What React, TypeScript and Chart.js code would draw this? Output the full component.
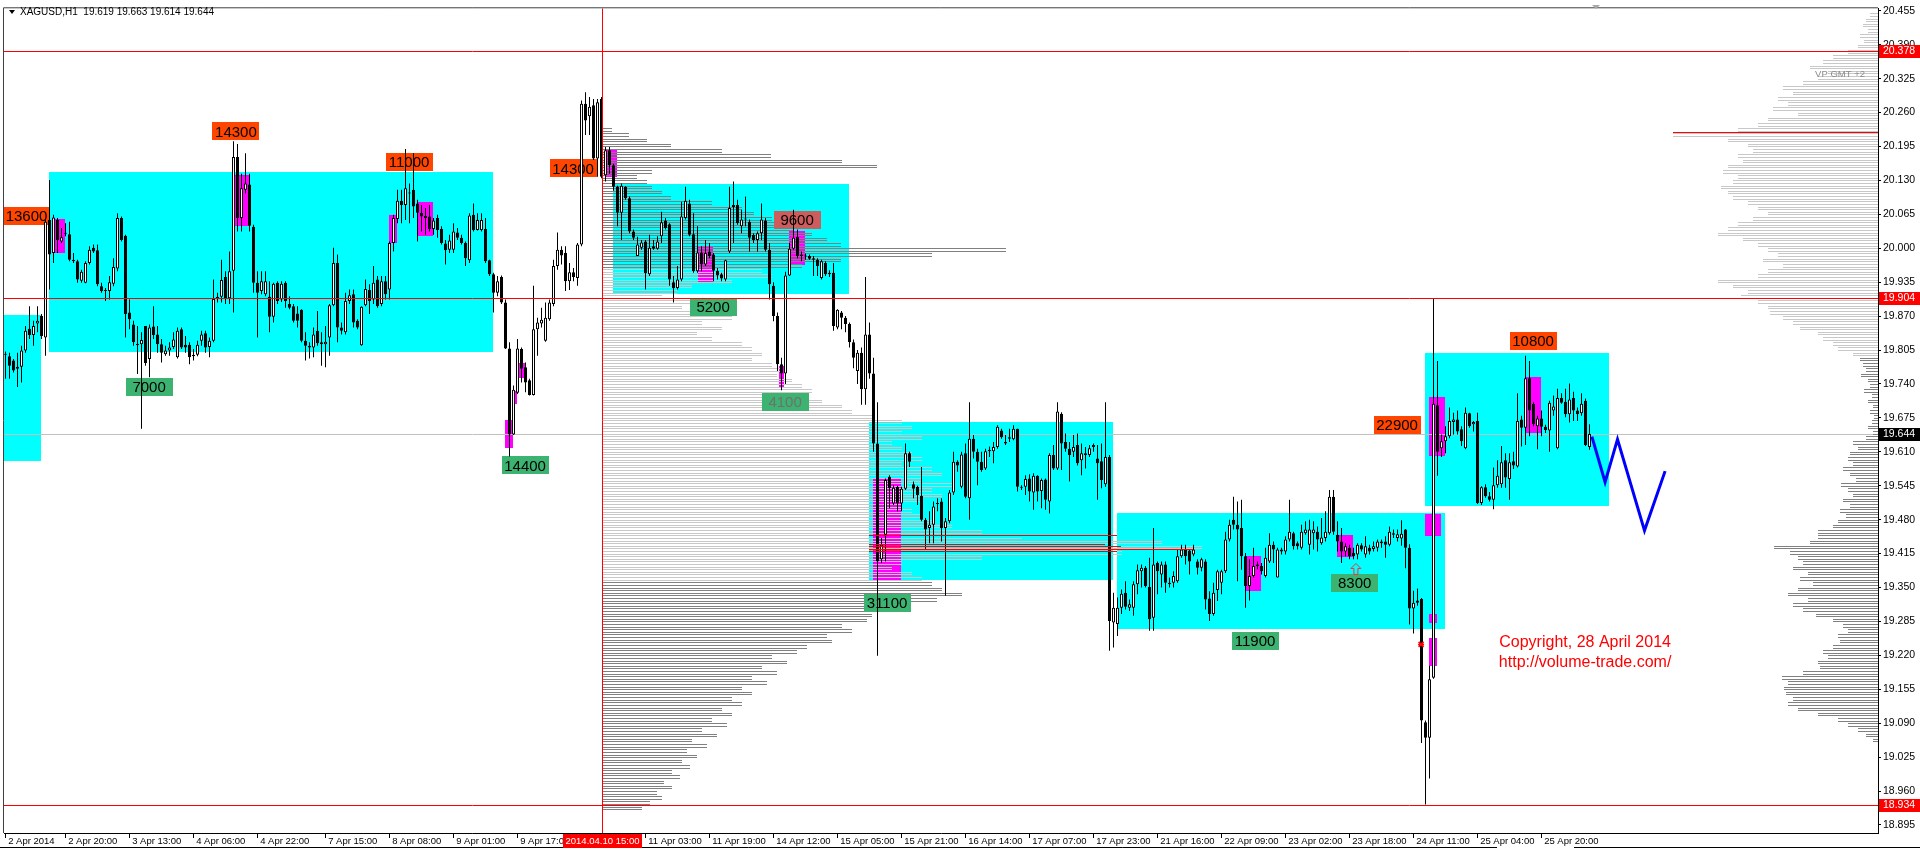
import React, { useEffect, useRef } from "react";
import { Chart, registerables } from "chart.js";

Chart.register(...registerables);

const FONT = "'Liberation Sans', Arial, Helvetica, sans-serif";

// ---------- candles (H1 bars, index 0 = first visible bar) ----------
const OPEN = [
  19.798,19.793,19.785,19.769,19.773,19.804,19.846,19.834,19.856,19.870,
  19.829,20.054,19.991,20.054,20.013,20.029,20.027,19.978,19.975,19.938,
  19.934,19.972,20.001,19.996,19.927,19.920,19.918,19.932,19.961,20.058,
  20.024,19.877,19.854,19.817,19.816,19.851,19.788,19.850,19.835,19.816,
  19.797,19.804,19.811,19.791,19.845,19.815,19.815,19.796,19.796,19.823,
  19.837,19.811,19.823,19.907,19.907,19.945,19.904,19.957,20.175,20.058,
  20.112,20.122,20.041,19.934,19.918,19.912,19.907,19.869,19.934,19.902,
  19.934,19.893,19.889,19.875,19.882,19.823,19.813,19.810,19.842,19.820,
  19.816,19.829,19.891,19.972,19.848,19.839,19.899,19.912,19.861,19.814,
  19.891,19.920,19.902,19.940,19.893,19.937,19.921,20.010,20.056,20.091,
  20.083,20.105,20.112,20.086,20.068,20.062,20.061,20.037,20.058,20.037,
  20.009,19.997,19.997,20.030,20.020,20.010,19.977,20.064,20.035,20.035,
  20.037,19.977,19.950,19.915,19.945,19.896,19.808,19.643,19.723,19.807,
  19.772,19.747,19.719,19.845,19.856,19.823,19.864,19.893,19.966,19.997,
  19.991,19.937,19.954,19.943,20.007,20.277,20.253,20.274,20.172,20.286,
  20.140,20.188,20.159,20.118,20.068,20.118,20.096,20.032,19.985,20.001,
  20.013,19.950,20.004,19.999,20.023,20.053,20.046,19.935,19.924,19.940,
  20.058,20.086,20.027,19.956,19.992,19.969,19.994,19.988,19.957,19.950,
  19.940,19.994,20.079,20.083,20.042,20.056,20.051,20.026,20.016,20.029,
  20.053,19.997,19.928,19.870,19.778,19.760,19.948,19.999,20.022,19.988,
  19.985,19.985,19.981,19.978,19.943,19.972,19.950,19.953,19.848,19.877,
  19.867,19.855,19.820,19.765,19.800,19.730,19.835,19.760,19.626,19.404,
  19.451,19.562,19.511,19.543,19.511,19.539,19.607,19.548,19.543,19.526,
  19.480,19.464,19.470,19.511,19.515,19.464,19.477,19.532,19.591,19.543,
  19.607,19.521,19.635,19.610,19.591,19.578,19.611,19.611,19.619,19.651,
  19.626,19.638,19.634,19.654,19.543,19.543,19.559,19.532,19.564,19.535,
  19.557,19.515,19.604,19.578,19.683,19.629,19.616,19.610,19.623,19.594,
  19.607,19.604,19.623,19.597,19.592,19.548,19.600,19.283,19.280,19.311,
  19.340,19.311,19.311,19.356,19.381,19.388,19.351,19.292,19.397,19.375,
  19.394,19.359,19.359,19.362,19.410,19.423,19.421,19.413,19.400,19.388,
  19.400,19.329,19.299,19.345,19.359,19.381,19.442,19.480,19.470,19.464,
  19.410,19.353,19.372,19.391,19.391,19.372,19.400,19.432,19.369,19.423,
  19.419,19.442,19.454,19.435,19.426,19.454,19.432,19.454,19.457,19.435,
  19.445,19.454,19.524,19.451,19.438,19.419,19.426,19.416,19.413,19.431,
  19.413,19.426,19.424,19.426,19.438,19.438,19.432,19.454,19.445,19.444,
  19.461,19.426,19.310,19.325,19.328,19.092,19.062,19.177,19.699,19.617,
  19.630,19.640,19.667,19.672,19.653,19.617,19.684,19.663,19.669,19.512,
  19.542,19.525,19.518,19.546,19.548,19.594,19.558,19.592,19.582,19.672,
  19.656,19.751,19.702,19.659,19.674,19.658,19.651,19.689,19.617,19.713,
  19.706,19.682,19.713,19.689,19.684,19.708,19.619,
];
const HIGH = [
  19.802,19.800,19.788,19.800,19.813,19.851,19.889,19.861,19.889,19.874,
  20.054,20.131,20.064,20.058,20.039,20.048,20.051,19.991,19.978,19.959,
  19.975,20.004,20.007,20.007,19.934,19.924,19.947,19.981,20.067,20.061,
  20.026,19.902,19.861,19.851,19.839,19.851,19.854,19.889,19.851,19.826,
  19.813,19.820,19.839,19.848,19.848,19.832,19.820,19.807,19.823,19.842,
  19.842,19.829,19.940,19.915,19.978,19.956,19.994,20.205,20.200,20.143,
  20.182,20.143,20.045,19.956,19.956,19.956,19.937,19.934,19.937,19.937,
  19.937,19.908,19.893,19.889,19.883,19.839,19.820,19.848,19.880,19.839,
  19.851,19.893,20.001,19.988,19.858,19.915,19.921,19.921,19.864,19.889,
  19.940,19.931,19.966,19.947,19.947,19.947,20.013,20.064,20.112,20.112,
  20.190,20.124,20.182,20.093,20.083,20.077,20.083,20.058,20.064,20.042,
  20.016,20.026,20.048,20.039,20.026,20.013,20.067,20.086,20.067,20.067,
  20.058,19.978,19.953,19.947,19.948,19.902,19.820,19.737,19.826,19.810,
  19.781,19.750,19.928,19.867,19.886,19.896,19.902,19.978,20.030,20.004,
  20.004,19.972,19.962,20.010,20.283,20.299,20.290,20.286,20.286,20.290,
  20.194,20.194,20.162,20.120,20.124,20.119,20.099,20.036,20.022,20.016,
  20.016,20.026,20.016,20.023,20.070,20.058,20.048,19.947,19.966,20.089,
  20.118,20.093,20.067,20.042,20.004,20.016,20.010,19.991,19.962,19.953,
  19.978,20.118,20.128,20.093,20.074,20.099,20.055,20.029,20.032,20.086,
  20.058,20.010,19.935,19.877,19.790,19.955,20.010,20.074,20.036,19.994,
  19.990,19.988,19.985,19.981,19.978,19.975,19.958,19.972,19.883,19.880,
  19.870,19.858,19.825,19.805,19.810,19.945,19.858,19.790,19.705,19.445,
  19.559,19.565,19.546,19.545,19.543,19.626,19.610,19.553,19.545,19.581,
  19.483,19.496,19.515,19.521,19.521,19.483,19.537,19.610,19.594,19.610,
  19.626,19.705,19.642,19.616,19.610,19.616,19.620,19.629,19.661,19.654,
  19.642,19.654,19.661,19.654,19.546,19.565,19.567,19.569,19.565,19.559,
  19.559,19.607,19.623,19.705,19.686,19.645,19.629,19.642,19.645,19.626,
  19.619,19.623,19.626,19.623,19.626,19.705,19.604,19.340,19.331,19.346,
  19.362,19.327,19.362,19.394,19.394,19.391,19.407,19.464,19.400,19.400,
  19.400,19.369,19.381,19.423,19.432,19.432,19.423,19.432,19.404,19.407,
  19.404,19.343,19.359,19.384,19.384,19.457,19.480,19.524,19.515,19.518,
  19.416,19.404,19.426,19.400,19.397,19.426,19.454,19.438,19.426,19.426,
  19.448,19.518,19.457,19.438,19.470,19.477,19.480,19.477,19.467,19.483,
  19.496,19.537,19.537,19.477,19.464,19.435,19.432,19.426,19.435,19.435,
  19.448,19.432,19.438,19.442,19.442,19.448,19.467,19.461,19.461,19.479,
  19.462,19.433,19.344,19.348,19.330,19.095,19.200,19.904,19.784,19.643,
  19.659,19.695,19.685,19.689,19.659,19.695,19.685,19.669,19.685,19.544,
  19.548,19.533,19.580,19.594,19.621,19.607,19.607,19.610,19.722,19.679,
  19.794,19.784,19.705,19.679,19.689,19.662,19.708,19.718,19.731,19.722,
  19.731,19.741,19.725,19.695,19.722,19.712,19.663,
];
const LOW = [
  19.750,19.750,19.762,19.734,19.743,19.800,19.826,19.813,19.839,19.826,
  19.794,19.921,19.972,19.991,20.010,20.023,19.975,19.972,19.934,19.934,
  19.933,19.969,19.991,19.927,19.915,19.899,19.902,19.927,19.956,20.013,
  19.829,19.845,19.813,19.759,19.654,19.775,19.753,19.826,19.800,19.781,
  19.794,19.794,19.807,19.789,19.807,19.800,19.778,19.785,19.793,19.813,
  19.800,19.791,19.820,19.896,19.896,19.893,19.893,19.877,20.032,20.032,
  20.105,20.032,19.915,19.829,19.912,19.908,19.839,19.858,19.893,19.897,
  19.886,19.883,19.858,19.848,19.820,19.785,19.789,19.791,19.813,19.775,
  19.772,19.794,19.889,19.820,19.835,19.835,19.893,19.848,19.845,19.813,
  19.889,19.874,19.893,19.886,19.889,19.902,19.902,19.994,20.048,20.048,
  20.054,20.048,20.058,20.013,20.032,20.026,20.032,20.026,20.020,20.007,
  19.969,19.991,19.991,20.016,20.007,19.966,19.972,20.032,20.034,20.032,
  19.972,19.947,19.877,19.908,19.893,19.807,19.601,19.642,19.721,19.743,
  19.724,19.718,19.718,19.794,19.848,19.821,19.861,19.889,19.959,19.969,
  19.918,19.920,19.937,19.928,20.004,20.217,20.217,20.169,20.137,20.134,
  20.128,20.143,20.110,20.042,20.016,20.093,20.029,20.016,19.985,19.997,
  19.921,19.947,19.997,19.997,20.010,20.036,19.928,19.896,19.921,19.937,
  20.055,20.023,19.953,19.953,19.956,19.966,19.981,19.937,19.940,19.937,
  19.937,19.991,20.010,20.045,20.029,20.042,19.994,20.010,19.994,20.016,
  19.994,19.902,19.860,19.765,19.728,19.740,19.947,19.997,19.981,19.975,
  19.978,19.978,19.947,19.947,19.940,19.947,19.945,19.842,19.845,19.845,
  19.839,19.810,19.770,19.740,19.700,19.700,19.750,19.610,19.219,19.397,
  19.400,19.502,19.508,19.496,19.496,19.537,19.581,19.521,19.508,19.477,
  19.423,19.435,19.435,19.496,19.438,19.334,19.473,19.527,19.572,19.540,
  19.521,19.480,19.597,19.546,19.572,19.575,19.600,19.588,19.616,19.635,
  19.623,19.629,19.632,19.534,19.537,19.527,19.515,19.499,19.515,19.502,
  19.499,19.492,19.575,19.575,19.575,19.610,19.553,19.600,19.584,19.565,
  19.578,19.600,19.610,19.518,19.540,19.543,19.229,19.235,19.257,19.299,
  19.308,19.305,19.296,19.337,19.350,19.350,19.267,19.267,19.337,19.350,
  19.340,19.350,19.350,19.359,19.407,19.394,19.375,19.410,19.375,19.381,
  19.308,19.286,19.296,19.324,19.337,19.378,19.438,19.461,19.362,19.384,
  19.311,19.325,19.369,19.385,19.375,19.369,19.397,19.397,19.369,19.413,
  19.413,19.438,19.423,19.423,19.423,19.451,19.413,19.423,19.419,19.432,
  19.438,19.451,19.451,19.419,19.397,19.410,19.404,19.404,19.404,19.419,
  19.407,19.413,19.419,19.419,19.426,19.407,19.429,19.445,19.438,19.430,
  19.387,19.279,19.262,19.315,19.052,18.934,18.984,19.175,19.564,19.600,
  19.607,19.636,19.643,19.643,19.621,19.615,19.656,19.649,19.510,19.508,
  19.522,19.515,19.500,19.541,19.541,19.541,19.518,19.577,19.580,19.620,
  19.623,19.640,19.659,19.615,19.640,19.646,19.610,19.679,19.615,19.702,
  19.676,19.666,19.669,19.669,19.679,19.621,19.614,
];
const CLOSE = [
  19.796,19.775,19.766,19.773,19.804,19.842,19.834,19.851,19.861,19.832,
  20.051,19.988,20.059,20.016,20.021,20.028,19.978,19.975,19.940,19.955,
  19.972,19.997,19.994,19.931,19.918,19.918,19.935,19.964,20.058,20.016,
  19.874,19.864,19.820,19.814,19.824,19.780,19.848,19.834,19.816,19.800,
  19.804,19.810,19.825,19.842,19.810,19.810,19.791,19.793,19.815,19.835,
  19.810,19.823,19.903,19.903,19.939,19.904,19.956,20.175,20.058,20.115,
  20.124,20.043,19.934,19.915,19.937,19.937,19.869,19.932,19.899,19.932,
  19.899,19.886,19.861,19.861,19.823,19.813,19.810,19.835,19.818,19.816,
  19.821,19.891,19.972,19.848,19.842,19.899,19.910,19.858,19.848,19.888,
  19.922,19.899,19.934,19.889,19.937,19.912,20.010,20.058,20.091,20.083,
  20.115,20.107,20.080,20.068,20.061,20.058,20.037,20.053,20.035,20.010,
  19.996,20.015,20.032,20.020,20.010,19.981,20.063,20.035,20.054,20.054,
  19.975,19.950,19.915,19.937,19.896,19.808,19.643,19.729,19.808,19.769,
  19.743,19.719,19.845,19.858,19.863,19.867,19.896,19.966,19.997,19.986,
  19.937,19.954,19.945,20.007,20.277,20.245,20.271,20.172,20.280,20.137,
  20.188,20.159,20.118,20.068,20.120,20.096,20.032,20.020,20.007,20.011,
  19.952,20.001,19.999,20.013,20.050,20.039,19.940,19.924,19.940,20.061,
  20.091,20.026,19.956,19.992,19.969,19.991,19.985,19.957,19.948,19.942,
  19.977,20.077,20.083,20.048,20.055,20.055,20.020,20.016,20.029,20.055,
  19.997,19.931,19.870,19.778,19.760,19.948,19.999,20.020,19.985,19.985,
  19.984,19.980,19.978,19.966,19.975,19.950,19.953,19.851,19.882,19.867,
  19.855,19.820,19.790,19.800,19.730,19.835,19.760,19.626,19.400,19.432,
  19.556,19.540,19.541,19.511,19.539,19.607,19.591,19.539,19.527,19.480,
  19.461,19.470,19.505,19.510,19.464,19.477,19.532,19.591,19.584,19.605,
  19.524,19.635,19.610,19.591,19.575,19.611,19.614,19.619,19.658,19.638,
  19.629,19.635,19.654,19.543,19.541,19.558,19.534,19.564,19.534,19.556,
  19.518,19.604,19.578,19.687,19.626,19.616,19.604,19.619,19.588,19.607,
  19.604,19.617,19.619,19.588,19.556,19.600,19.286,19.311,19.311,19.338,
  19.313,19.318,19.356,19.383,19.388,19.353,19.289,19.394,19.381,19.394,
  19.359,19.356,19.372,19.410,19.423,19.410,19.400,19.423,19.388,19.404,
  19.327,19.299,19.340,19.381,19.381,19.442,19.470,19.470,19.461,19.410,
  19.353,19.372,19.391,19.394,19.381,19.407,19.432,19.423,19.423,19.419,
  19.442,19.457,19.429,19.429,19.457,19.461,19.461,19.461,19.442,19.446,
  19.457,19.524,19.457,19.438,19.419,19.429,19.410,19.410,19.432,19.423,
  19.429,19.419,19.429,19.438,19.435,19.432,19.457,19.451,19.452,19.453,
  19.426,19.310,19.321,19.321,19.095,19.062,19.174,19.702,19.610,19.630,
  19.640,19.669,19.672,19.649,19.630,19.685,19.659,19.667,19.512,19.542,
  19.525,19.518,19.546,19.564,19.590,19.561,19.590,19.584,19.669,19.656,
  19.751,19.689,19.663,19.674,19.658,19.652,19.704,19.697,19.713,19.704,
  19.682,19.710,19.689,19.682,19.702,19.623,19.644,
];

// ---------- axes ----------
const X_TICK_IDX = [0, 15, 31, 47, 63, 80, 96, 112, 128, 144, 160, 176, 192, 208, 224, 240, 256, 272, 288, 304, 320, 336, 352, 368, 384];
const X_TICK_TEXT = [
  "2 Apr 2014", "2 Apr 20:00", "3 Apr 13:00", "4 Apr 06:00", "4 Apr 22:00", "7 Apr 15:00",
  "8 Apr 08:00", "9 Apr 01:00", "9 Apr 17:00", "10 Apr 10:00", "11 Apr 03:00", "11 Apr 19:00",
  "14 Apr 12:00", "15 Apr 05:00", "15 Apr 21:00", "16 Apr 14:00", "17 Apr 07:00", "17 Apr 23:00",
  "21 Apr 16:00", "22 Apr 09:00", "23 Apr 02:00", "23 Apr 18:00", "24 Apr 11:00", "25 Apr 04:00",
  "25 Apr 20:00",
];
const Y_TICKS = [
  18.895, 18.96, 19.025, 19.09, 19.155, 19.22, 19.285, 19.35, 19.415, 19.48, 19.545, 19.61,
  19.675, 19.74, 19.805, 19.87, 19.935, 20.0, 20.065, 20.13, 20.195, 20.26, 20.325, 20.39, 20.455,
];
const Y_MIN = 18.8796;
const Y_MAX = 20.4598;
const X_MIN = -0.375;
const X_MAX = 468.125;

// ---------- levels / objects ----------
const SYMBOL_TEXT = "XAGUSD,H1  19.619 19.663 19.614 19.644";
const RED_LEVELS = [20.378, 19.904, 18.934];
const CURRENT_PRICE = 19.644;
const VLINE_IDX = 149;
const VLINE_TEXT = "2014.04.10 15:00";

// [startIdx, endIdx, lowPrice, highPrice]
const CYAN_BOXES = [
  [-1, 8.8, 19.593, 19.872],
  [10.9, 121.8, 19.801, 20.147],
  [151.8, 210.8, 19.913, 20.124],
  [215.9, 276.8, 19.364, 19.667],
  [277.9, 359.9, 19.27, 19.493],
  [354.9, 400.9, 19.507, 19.799],
];
const MAGENTA_BOXES = [
  [11.95, 14.9, 19.991, 20.056],
  [57.4, 60.95, 20.043, 20.14],
  [95.95, 97.8, 20.011, 20.064],
  [102.95, 106.8, 20.024, 20.089],
  [124.9, 126.8, 19.617, 19.67],
  [126.95, 127.8, 19.702, 19.727],
  [128.2, 129.95, 19.751, 19.78],
  [149.95, 152.95, 20.137, 20.188],
  [173.05, 176.95, 19.935, 20.004],
  [193.3, 194.55, 19.732, 19.774],
  [195.95, 199.9, 19.967, 20.033],
  [216.85, 223.9, 19.363, 19.557],
  [309.9, 313.9, 19.343, 19.41],
  [332.9, 336.9, 19.408, 19.45],
  [355.9, 359.9, 19.602, 19.715],
  [354.9, 358.9, 19.449, 19.491],
  [355.9, 357.9, 19.282, 19.3],
  [355.9, 357.9, 19.2, 19.253],
  [380.05, 383.9, 19.646, 19.754],
];
// [startIdx, endIdx, price]
const RED_SEGMENTS = [
  [215.9, 277.8, 19.45],
  [215.9, 274.9, 19.434],
  [215.9, 278.8, 19.43],
  [215.9, 296.95, 19.423],
  [215.9, 277.8, 19.419],
];

const ORANGE = "#FF4500";
const GREEN = "#3CB371";
const INDIAN = "#CD5C5C";
// [text, centerIdx, centerPrice, background, textColor]
const LABELS = [
  ["13600", 5.25, 20.062, ORANGE, "#000"],
  ["14300", 57.6, 20.224, ORANGE, "#000"],
  ["11000", 100.9, 20.165, ORANGE, "#000"],
  ["7000", 35.9, 19.735, GREEN, "#000"],
  ["14400", 129.9, 19.584, GREEN, "#000"],
  ["14300", 141.9, 20.153, ORANGE, "#000"],
  ["5200", 176.9, 19.888, GREEN, "#000"],
  ["9600", 197.9, 20.055, INDIAN, "#000"],
  ["4100", 194.9, 19.705, GREEN, "#707070"],
  ["31100", 220.4, 19.321, GREEN, "#000"],
  ["11900", 312.4, 19.247, GREEN, "#000"],
  ["8300", 337.3, 19.359, GREEN, "#000"],
  ["22900", 347.9, 19.661, ORANGE, "#000"],
  ["10800", 381.9, 19.823, ORANGE, "#000"],
];
const ARROW_8300 = { idx: 337.6, low: 19.375, high: 19.396 };
const MARK_X = { idx: 353.9, price: 19.241 };

const ZIGZAG_X = [396.6, 399.9, 403.0, 409.75, 414.9];
const ZIGZAG_Y = [19.639, 19.552, 19.634, 19.459, 19.573];

const COPYRIGHT = ["Copyright, 28 April 2014", "http://volume-trade.com/"];
const COPYRIGHT_POS = { idx: 394.9, prices: [19.2446, 19.2055] };
const VP_TEXT = "VP GMT +2";
const VP_TEXT_POS = { idx: 452.4, price: 20.334 };

// ---------- volume profiles (volume per 0.01 price bucket) ----------
const VP_STEP = 0.01;
const VP1_ANCHOR_IDX = 149;
const VP1_TOP = 20.23;
const VP1_VOL = [
  10, 27, 45, 69, 120, 169, 240, 275, 50, 35,
  45, 50, 60, 69, 110, 140, 152, 170, 185, 192,
  210, 225, 239, 404, 330, 239, 200, 160, 170, 130,
  90, 75, 60, 90, 80, 110, 130, 100, 120, 95,
  110, 140, 150, 160, 150, 170, 180, 175, 190, 200,
  210, 200, 220, 240, 250, 270, 300, 310, 300, 320,
  290, 300, 310, 320, 300, 330, 340, 320, 350, 330,
  340, 320, 300, 310, 320, 330, 350, 380, 420, 560,
  600, 520, 380, 300, 290, 310, 320, 330, 340, 360,
  335, 290, 300, 270, 265, 240, 250, 225, 230, 205,
  195, 170, 185, 160, 175, 150, 165, 140, 150, 130,
  140, 120, 130, 110, 125, 100, 115, 90, 105, 85,
  95, 80, 88, 70, 78, 62, 70, 55, 60, 48,
  40,
];
const VP1_DARK_ABOVE = 19.97;
const VP1_DARK_BELOW = 19.365;

const VP2_TOP = 20.45;
const VP2_VOL = [
  8, 12, 15, 10, 18, 14, 20, 30, 45, 55,
  68, 50, 60, 75, 95, 85, 100, 90, 105, 80,
  110, 120, 140, 205, 150, 130, 125, 140, 135, 150,
  155, 140, 145, 157, 150, 145, 130, 120, 110, 125,
  140, 150, 160, 135, 120, 110, 100, 115, 95, 110,
  120, 160, 145, 130, 137, 120, 110, 108, 95, 85,
  78, 60, 55, 45, 40, 25, 18, 15, 12, 17,
  10, 8, 14, 6, 10, 5, 8, 4, 6, 10,
  5, 12, 25, 20, 28, 30, 25, 35, 28, 22,
  37, 30, 25, 35, 28, 38, 32, 40, 45, 60,
  60, 68, 104, 88, 80, 75, 85, 70, 78, 65,
  80, 90, 70, 85, 75, 62, 45, 35, 30, 40,
  38, 45, 55, 50, 60, 58, 75, 96, 90, 94,
  92, 85, 90, 80, 60, 40, 30, 20, 12, 5,
];
const VP2_LIGHT_ABOVE = 19.795;
const VP2_POC_PRICE = 20.222;

const LIGHT_GRAY = "#C8C8C8";
const DARK_GRAY = "#808080";
const AXIS_FONT_SIZE_X = 9.5;
const AXIS_FONT_SIZE_Y = 10.5;

function hLine(ctx: any, x0: number, x1: number, y: number, color: string) {
  const yy = Math.round(y) + 0.5;
  ctx.strokeStyle = color;
  ctx.lineWidth = 1;
  ctx.beginPath();
  ctx.moveTo(Math.round(x0), yy);
  ctx.lineTo(Math.round(x1), yy);
  ctx.stroke();
}

const overlay = {
  id: "mt4overlay",
  beforeDraw(chart: any) {
    const { ctx, width, height } = chart;
    ctx.save();
    ctx.fillStyle = "#ffffff";
    ctx.fillRect(0, 0, width, height);
    ctx.restore();
  },
  beforeDatasetsDraw(chart: any) {
    const { ctx, chartArea: a } = chart;
    const px = (v: number) => chart.scales.x.getPixelForValue(v);
    const py = (v: number) => chart.scales.y.getPixelForValue(v);
    ctx.save();
    ctx.beginPath();
    ctx.rect(a.left, a.top, a.right - a.left, a.bottom - a.top);
    ctx.clip();
    const box = (b: number[], color: string) => {
      const x0 = Math.round(px(b[0]));
      const x1 = Math.round(px(b[1]));
      const y0 = Math.round(py(b[3]));
      const y1 = Math.round(py(b[2]));
      ctx.fillStyle = color;
      ctx.fillRect(x0, y0, x1 - x0, y1 - y0);
    };
    CYAN_BOXES.forEach((b) => box(b, "#00FFFF"));
    MAGENTA_BOXES.forEach((b) => box(b, "#FF00FF"));
    hLine(ctx, a.left, a.right, py(CURRENT_PRICE), "#C0C0C0");

    // volume profile anchored at the vertical line
    const vx0 = px(VP1_ANCHOR_IDX);
    VP1_VOL.forEach((v, k) => {
      const p = VP1_TOP - k * VP_STEP;
      const color = p >= VP1_DARK_ABOVE || p <= VP1_DARK_BELOW ? DARK_GRAY : LIGHT_GRAY;
      hLine(ctx, vx0, vx0 + v, py(p), color);
      hLine(ctx, vx0, vx0 + v, py(p - VP_STEP / 2), color);
    });
    // session volume profile on the right edge
    const rx = a.right;
    VP2_VOL.forEach((v, k) => {
      const p = VP2_TOP - k * VP_STEP;
      const color = p >= VP2_LIGHT_ABOVE ? LIGHT_GRAY : DARK_GRAY;
      hLine(ctx, rx - v, rx, py(p), color);
      hLine(ctx, rx - v, rx, py(p - VP_STEP / 2), color);
    });
    hLine(ctx, rx - Math.max(...VP2_VOL), rx, py(VP2_POC_PRICE), "#FF0000");

    // volume labels (background objects)
    ctx.font = `15px ${FONT}`;
    ctx.textAlign = "center";
    ctx.textBaseline = "middle";
    LABELS.forEach(([t, i, p, bg, fg]: any) => {
      const cx = px(i);
      const cy = py(p);
      const w = 47;
      const h = 18;
      ctx.fillStyle = bg;
      ctx.fillRect(Math.round(cx - w / 2), Math.round(cy - h / 2), w, h);
      ctx.fillStyle = fg;
      ctx.fillText(t, cx, cy + 1);
    });
    ctx.restore();
  },
  afterDatasetsDraw(chart: any) {
    const { ctx, chartArea: a } = chart;
    const px = (v: number) => chart.scales.x.getPixelForValue(v);
    const py = (v: number) => chart.scales.y.getPixelForValue(v);
    ctx.save();
    ctx.beginPath();
    ctx.rect(a.left, a.top, a.right - a.left, a.bottom - a.top);
    ctx.clip();
    RED_LEVELS.forEach((p) => hLine(ctx, a.left, a.right, py(p), "#FF0000"));
    RED_SEGMENTS.forEach(([i0, i1, p]) => hLine(ctx, px(i0), px(i1), py(p), "#FF0000"));
    // vertical line
    const vx = Math.round(px(VLINE_IDX)) + 0.5;
    ctx.strokeStyle = "#FF0000";
    ctx.lineWidth = 1;
    ctx.beginPath();
    ctx.moveTo(vx, a.top);
    ctx.lineTo(vx, a.bottom);
    ctx.stroke();

    // hollow arrow above 8300
    const ax = px(ARROW_8300.idx);
    const at = py(ARROW_8300.high);
    const ab = py(ARROW_8300.low);
    ctx.strokeStyle = "#FF3030";
    ctx.beginPath();
    ctx.moveTo(ax, at);
    ctx.lineTo(ax + 5, at + 5);
    ctx.lineTo(ax + 2, at + 5);
    ctx.lineTo(ax + 2, ab);
    ctx.lineTo(ax - 2, ab);
    ctx.lineTo(ax - 2, at + 5);
    ctx.lineTo(ax - 5, at + 5);
    ctx.closePath();
    ctx.stroke();

    // small red mark
    const mx = px(MARK_X.idx);
    const my = py(MARK_X.price);
    ctx.strokeStyle = "#FF0000";
    ctx.lineWidth = 1.5;
    ctx.beginPath();
    ctx.moveTo(mx - 2.5, my - 2.5);
    ctx.lineTo(mx + 2.5, my + 2.5);
    ctx.moveTo(mx + 2.5, my - 2.5);
    ctx.lineTo(mx - 2.5, my + 2.5);
    ctx.moveTo(mx - 3, my);
    ctx.lineTo(mx + 3, my);
    ctx.stroke();

    // copyright
    ctx.fillStyle = "#FF0000";
    ctx.font = `16px ${FONT}`;
    ctx.textAlign = "center";
    ctx.textBaseline = "middle";
    COPYRIGHT.forEach((t, k) => ctx.fillText(t, px(COPYRIGHT_POS.idx), py(COPYRIGHT_POS.prices[k])));

    ctx.fillStyle = "#8A8A8A";
    ctx.font = `9.5px ${FONT}`;
    ctx.textAlign = "left";
    ctx.fillText(VP_TEXT, px(VP_TEXT_POS.idx), py(VP_TEXT_POS.price));
    ctx.restore();
  },
  afterDraw(chart: any) {
    const { ctx, chartArea: a, width } = chart;
    const px = (v: number) => chart.scales.x.getPixelForValue(v);
    const py = (v: number) => chart.scales.y.getPixelForValue(v);
    ctx.save();
    // frame
    ctx.strokeStyle = "#404040";
    ctx.lineWidth = 1;
    ctx.beginPath();
    ctx.moveTo(a.left - 0.5, a.bottom);
    ctx.lineTo(a.left - 0.5, a.top - 0.5);
    ctx.lineTo(a.right, a.top - 0.5);
    ctx.stroke();
    ctx.strokeStyle = "#000";
    ctx.beginPath();
    ctx.moveTo(0, 847.5);
    ctx.lineTo(1497, 847.5);
    ctx.moveTo(1574, 847.5);
    ctx.lineTo(width, 847.5);
    ctx.stroke();

    // price tags on the axis
    ctx.font = `${AXIS_FONT_SIZE_Y}px ${FONT}`;
    ctx.textBaseline = "middle";
    ctx.textAlign = "left";
    const tag = (p: number, bg: string) => {
      const y = Math.round(py(p));
      ctx.fillStyle = bg;
      ctx.fillRect(a.right + 1, y - 6, width - a.right - 1, 13);
      ctx.fillStyle = "#fff";
      ctx.fillText(p.toFixed(3), a.right + 5, y + 0.5);
    };
    RED_LEVELS.forEach((p) => tag(p, "#FF0000"));
    tag(CURRENT_PRICE, "#000");

    // date tag of the vertical line
    ctx.font = `${AXIS_FONT_SIZE_X}px ${FONT}`;
    const vx = Math.round(px(VLINE_IDX));
    ctx.fillStyle = "#FF0000";
    ctx.fillRect(vx - 39, a.bottom + 1, 79, 14);
    ctx.fillStyle = "#fff";
    ctx.textAlign = "center";
    ctx.fillText(VLINE_TEXT, vx + 0.5, a.bottom + 8.5);

    // header
    ctx.fillStyle = "#000";
    ctx.beginPath();
    ctx.moveTo(9, 10);
    ctx.lineTo(15, 10);
    ctx.lineTo(12, 14);
    ctx.closePath();
    ctx.fill();
    ctx.textAlign = "left";
    ctx.font = `10px ${FONT}`;
    ctx.fillText(SYMBOL_TEXT, 20, 12);

    // shift marker
    ctx.fillStyle = "#A8A8A8";
    ctx.beginPath();
    ctx.moveTo(1592, 5);
    ctx.lineTo(1600, 5);
    ctx.lineTo(1596, 9);
    ctx.closePath();
    ctx.fill();
    ctx.restore();
  },
};

function buildConfig() {
  const bodies = OPEN.map((o, i) => ({ x: i, y: [o, CLOSE[i]] }));
  const wicks = OPEN.map((_, i) => ({ x: i, y: [LOW[i], HIGH[i]] }));
  const bodyFill = OPEN.map((o, i) => (CLOSE[i] > o ? "#ffffff" : "#000000"));
  const zig = ZIGZAG_X.map((x, i) => ({ x, y: ZIGZAG_Y[i] }));
  return {
    type: "bar",
    data: {
      datasets: [
        {
          type: "line",
          data: zig,
          borderColor: "#0000FF",
          borderWidth: 3,
          pointRadius: 0,
          fill: false,
          tension: 0,
          order: 0,
        },
        {
          type: "bar",
          data: bodies,
          backgroundColor: bodyFill,
          borderColor: "#000000",
          borderWidth: 1,
          borderSkipped: false,
          barThickness: 3,
          minBarLength: 1,
          grouped: false,
          inflateAmount: 0,
          order: 1,
        },
        {
          type: "bar",
          data: wicks,
          backgroundColor: "#000000",
          borderWidth: 0,
          barThickness: 1,
          grouped: false,
          inflateAmount: 0,
          order: 2,
        },
      ],
    },
    options: {
      responsive: false,
      devicePixelRatio: 1,
      animation: false,
      events: [],
      layout: { padding: { left: 4, top: 4, right: 0, bottom: 0 } },
      plugins: { legend: { display: false }, tooltip: { enabled: false } },
      scales: {
        x: {
          type: "linear",
          min: X_MIN,
          max: X_MAX,
          offset: false,
          afterBuildTicks: (s: any) => {
            s.ticks = X_TICK_IDX.map((v) => ({ value: v }));
          },
          afterFit: (s: any) => {
            s.height = 16;
          },
          ticks: {
            autoSkip: false,
            maxRotation: 0,
            minRotation: 0,
            align: "start",
            padding: -2,
            color: "#000",
            font: { family: FONT, size: AXIS_FONT_SIZE_X },
            callback: (v: number) => {
              const k = X_TICK_IDX.indexOf(v);
              return k >= 0 ? " " + X_TICK_TEXT[k] : "";
            },
          },
          grid: { display: true, drawOnChartArea: false, drawTicks: true, tickLength: 5, color: "#000", offset: false },
          border: { display: true, color: "#000", width: 1 },
        },
        y: {
          type: "linear",
          position: "right",
          min: Y_MIN,
          max: Y_MAX,
          afterBuildTicks: (s: any) => {
            s.ticks = Y_TICKS.map((v) => ({ value: v }));
          },
          afterFit: (s: any) => {
            s.width = 42;
          },
          ticks: {
            autoSkip: false,
            padding: 2,
            color: "#000",
            font: { family: FONT, size: AXIS_FONT_SIZE_Y },
            callback: (v: number) => Number(v).toFixed(3),
          },
          grid: { display: true, drawOnChartArea: false, drawTicks: true, tickLength: 3, color: "#000" },
          border: { display: true, color: "#000", width: 1 },
        },
      },
    },
    plugins: [overlay],
  };
}

export default function App() {
  const ref = useRef<HTMLCanvasElement | null>(null);
  useEffect(() => {
    document.body.style.margin = "0";
    const c = ref.current;
    if (!c) return;
    const chart = new Chart(c, buildConfig() as any);
    return () => chart.destroy();
  }, []);
  return (
    <div style={{ width: 1920, height: 849, overflow: "hidden", background: "#fff" }}>
      <canvas ref={ref} width={1920} height={849} style={{ display: "block", width: 1920, height: 849 }} />
    </div>
  );
}
